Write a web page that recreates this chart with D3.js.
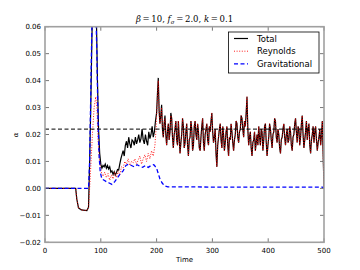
<!DOCTYPE html>
<html><head><meta charset="utf-8">
<script src="https://cdn.jsdelivr.net/npm/d3@7"></script>
<style>
body{margin:0;background:#fff;}
svg{display:block;font-family:"DejaVu Sans",sans-serif;}
</style></head>
<body><svg id="c" width="360" height="270"></svg>
<script>
// ---- data ----
const xTicks = [0,100,200,300,400,500];
const yTicks = [-0.02,-0.01,0.00,0.01,0.02,0.03,0.04,0.05,0.06];
const yTickLabels = ["\u22120.02","\u22120.01","0.00","0.01","0.02","0.03","0.04","0.05","0.06"];
const legendLabels = ["Total","Reynolds","Gravitational"];
const alphaTarget = 0.022;

const totalEarly = [[0,0],[55,0],[57,-0.004],[60,-0.0072],[65,-0.008],[75,-0.0082],[78,-0.007],[80,0.01],[82,0.03],[84,0.055],[86,0.075],[90,0.08],[92,0.065],[94,0.04],[96,0.022],[98,0.013],[100,0.009],[102,0.0075],[104,0.0085],[106,0.008],[108,0.009],[110,0.0075],[112,0.0085],[114,0.0072],[116,0.008],[118,0.006],[120,0.0065],[122,0.0052],[124,0.0062],[126,0.005],[128,0.0058],[130,0.007],[132,0.0068],[134,0.009],[136,0.011],[138,0.0125],[140,0.014],[142,0.012],[144,0.016],[146,0.0175],[148,0.015],[150,0.019],[152,0.0165],[154,0.015],[156,0.018],[158,0.0175],[160,0.016],[162,0.019],[164,0.0165],[166,0.018],[168,0.02],[170,0.017],[172,0.0185],[174,0.022],[176,0.018],[178,0.0165],[180,0.02],[182,0.0175],[184,0.016],[186,0.021],[188,0.0185],[190,0.02],[192,0.023],[194,0.019],[196,0.021],[198,0.025]];
const reynoldsEarly = [[0,0],[55,0],[57,-0.004],[60,-0.0072],[65,-0.008],[75,-0.0082],[78,-0.007],[80,0.0],[82,0.008],[85,0.02],[88,0.03],[91,0.034],[93,0.03],[95,0.018],[97,0.012],[99,0.008],[101,0.006],[104,0.0045],[107,0.006],[110,0.004],[113,0.0055],[116,0.003],[119,0.005],[122,0.0035],[125,0.006],[128,0.004],[131,0.0065],[134,0.005],[137,0.008],[140,0.0075],[143,0.01],[146,0.009],[149,0.011],[152,0.0085],[155,0.01],[158,0.0095],[161,0.011],[164,0.009],[167,0.0105],[170,0.012],[173,0.009],[176,0.011],[179,0.0125],[182,0.01],[185,0.013],[188,0.011],[191,0.014],[194,0.012],[197,0.016],[199,0.022]];
// saturated (turbulent) phase: t = 200..497 every 1.5, then t = 500
const noiseTimes = d3.range(200, 497.1, 1.5).concat([500]);
const totalLate = [0.028,0.035,0.041,0.029,0.024,0.027,0.031,0.022,0.019,0.024,0.027,0.020,0.016,0.021,0.024,0.018,0.021,0.028,0.026,0.019,0.015,0.020,0.022,0.025,0.018,0.016,0.025,0.019,0.013,0.017,0.020,0.026,0.023,0.015,0.017,0.021,0.024,0.016,0.012,0.018,0.019,0.025,0.022,0.014,0.016,0.023,0.025,0.020,0.018,0.024,0.021,0.015,0.014,0.019,0.023,0.026,0.017,0.014,0.020,0.022,0.024,0.018,0.016,0.023,0.021,0.025,0.028,0.021,0.017,0.019,0.022,0.013,0.008,0.016,0.019,0.022,0.024,0.018,0.015,0.023,0.020,0.014,0.017,0.021,0.023,0.016,0.012,0.019,0.018,0.024,0.021,0.017,0.014,0.018,0.020,0.025,0.024,0.019,0.017,0.021,0.022,0.027,0.026,0.022,0.019,0.025,0.023,0.028,0.034,0.022,0.016,0.019,0.021,0.015,0.012,0.017,0.018,0.021,0.014,0.017,0.020,0.016,0.023,0.019,0.016,0.022,0.021,0.014,0.018,0.023,0.024,0.017,0.012,0.016,0.019,0.024,0.022,0.018,0.015,0.020,0.021,0.026,0.025,0.019,0.017,0.022,0.020,0.015,0.013,0.018,0.019,0.022,0.024,0.019,0.016,0.020,0.022,0.017,0.018,0.023,0.021,0.016,0.014,0.019,0.020,0.024,0.026,0.021,0.017,0.023,0.022,0.016,0.019,0.024,0.027,0.020,0.015,0.018,0.021,0.025,0.018,0.022,0.024,0.016,0.013,0.018,0.020,0.023,0.017,0.021,0.023,0.018,0.014,0.017,0.019,0.022,0.016,0.020,0.025,0.0];
const reynoldsLate = [0.027,0.034,0.040,0.028,0.024,0.026,0.030,0.022,0.019,0.024,0.026,0.020,0.016,0.021,0.024,0.018,0.021,0.027,0.026,0.019,0.015,0.020,0.022,0.025,0.018,0.016,0.025,0.019,0.013,0.017,0.020,0.026,0.023,0.015,0.017,0.021,0.024,0.016,0.012,0.018,0.019,0.025,0.022,0.014,0.016,0.023,0.025,0.020,0.018,0.024,0.021,0.015,0.014,0.019,0.023,0.026,0.017,0.014,0.020,0.022,0.024,0.018,0.016,0.023,0.021,0.025,0.028,0.021,0.017,0.019,0.022,0.013,0.008,0.016,0.019,0.022,0.024,0.018,0.015,0.023,0.020,0.014,0.017,0.021,0.023,0.016,0.012,0.019,0.018,0.024,0.021,0.017,0.014,0.018,0.020,0.025,0.024,0.019,0.017,0.021,0.022,0.027,0.026,0.022,0.019,0.025,0.023,0.028,0.034,0.022,0.016,0.019,0.021,0.015,0.012,0.017,0.018,0.021,0.014,0.017,0.020,0.016,0.023,0.019,0.016,0.022,0.021,0.014,0.018,0.023,0.024,0.017,0.012,0.016,0.019,0.024,0.022,0.018,0.015,0.020,0.021,0.026,0.025,0.019,0.017,0.022,0.020,0.015,0.013,0.018,0.019,0.022,0.024,0.019,0.016,0.020,0.022,0.017,0.018,0.023,0.021,0.016,0.014,0.019,0.020,0.024,0.026,0.021,0.017,0.023,0.022,0.016,0.019,0.024,0.027,0.020,0.015,0.018,0.021,0.025,0.018,0.022,0.024,0.016,0.013,0.018,0.020,0.023,0.017,0.021,0.023,0.018,0.014,0.017,0.019,0.022,0.016,0.020,0.025,0.0];
const gravitational = [[0,0],[78,0],[80,0.01],[82,0.035],[84,0.06],[86,0.075],[90,0.075],[93,0.05],[95,0.025],[97,0.012],[99,0.006],[102,0.0035],[106,0.003],[110,0.0025],[115,0.002],[120,0.0015],[125,0.0025],[130,0.004],[135,0.0055],[140,0.0065],[145,0.0085],[150,0.009],[155,0.0085],[160,0.008],[165,0.0088],[170,0.0082],[175,0.0078],[180,0.0085],[185,0.0078],[190,0.0085],[195,0.0088],[200,0.0075],[203,0.0055],[206,0.0035],[210,0.002],[214,0.001],[220,0.0006],[300,0.0005],[400,0.0005],[497,0.0005],[500,0.0]];

// ---- chart ----
const svg = d3.select("#c");
const L = 45, R = 324, T = 26.7, B = 242.3;
const x = d3.scaleLinear().domain([0,500]).range([L,R]);
const y = d3.scaleLinear().domain([-0.02,0.06]).range([B,T]);

svg.append("defs").append("clipPath").attr("id","clip")
  .append("rect").attr("x",L).attr("y",T).attr("width",R-L).attr("height",B-T);

const total = totalEarly.concat(noiseTimes.map((t,i)=>[t,totalLate[i]]));
const reynolds = reynoldsEarly.concat(noiseTimes.map((t,i)=>[t,reynoldsLate[i]]));
const line = d3.line().x(d=>x(d[0])).y(d=>y(d[1]));
const g = svg.append("g").attr("clip-path","url(#clip)");

g.append("path").datum(total).attr("d",line).attr("fill","none")
  .attr("stroke","#000").attr("stroke-width",1.2);
g.append("path").datum(reynolds).attr("d",line).attr("fill","none")
  .attr("stroke","#ff0000").attr("stroke-width",0.9).attr("stroke-dasharray","1,1.6");
g.append("path").datum(gravitational).attr("d",line).attr("fill","none")
  .attr("stroke","#0000ff").attr("stroke-width",1.3).attr("stroke-dasharray","4,2.5");
g.append("line").attr("x1",x(0)).attr("x2",x(500)).attr("y1",y(alphaTarget)).attr("y2",y(alphaTarget))
  .attr("stroke","#000").attr("stroke-width",1).attr("stroke-dasharray","4,2.5");

// ticks (inward, all sides)
const tickCol = "#555";
xTicks.forEach(t=>{
  svg.append("line").attr("x1",x(t)).attr("x2",x(t)).attr("y1",B).attr("y2",B-4).attr("stroke",tickCol).attr("stroke-width",0.8);
  svg.append("line").attr("x1",x(t)).attr("x2",x(t)).attr("y1",T).attr("y2",T+4).attr("stroke",tickCol).attr("stroke-width",0.8);
  svg.append("text").attr("x",x(t)).attr("y",B+11).attr("text-anchor","middle")
    .attr("font-size",7).attr("fill","#000").text(t);
});
yTicks.forEach((v,i)=>{
  svg.append("line").attr("x1",L).attr("x2",L+4).attr("y1",y(v)).attr("y2",y(v)).attr("stroke",tickCol).attr("stroke-width",0.8);
  svg.append("line").attr("x1",R).attr("x2",R-4).attr("y1",y(v)).attr("y2",y(v)).attr("stroke",tickCol).attr("stroke-width",0.8);
  svg.append("text").attr("x",L-4).attr("y",y(v)+2.5).attr("text-anchor","end")
    .attr("font-size",7).attr("fill","#000").text(yTickLabels[i]);
});
// frame
svg.append("rect").attr("x",L).attr("y",T).attr("width",R-L).attr("height",B-T)
  .attr("fill","none").attr("stroke","#a0a0a0").attr("stroke-width",1.6);

// labels
svg.append("text").attr("x",(L+R)/2).attr("y",262).attr("text-anchor","middle")
  .attr("font-size",7).text("Time");
svg.append("text").attr("transform","translate(18,135) rotate(-90)").attr("text-anchor","middle")
  .attr("font-size",7).attr("font-family","DejaVu Serif").attr("font-style","italic").text("\u03b1");
const title = svg.append("text").attr("x",(L+R)/2).attr("y",22).attr("text-anchor","middle")
  .attr("font-size",8.5).attr("font-family","DejaVu Serif");
title.append("tspan").attr("font-style","italic").text("\u03b2");
title.append("tspan").text("\u2009=\u200910, ");
title.append("tspan").attr("font-style","italic").text("f");
title.append("tspan").attr("font-style","italic").attr("font-size",5.5).attr("dy",1.5).text("\u03c3");
title.append("tspan").attr("dy",-1.5).text("\u2009=\u20092.0, ");
title.append("tspan").attr("font-style","italic").text("k");
title.append("tspan").text("\u2009=\u20090.1");

// legend
const lg = svg.append("g");
lg.append("rect").attr("x",228.5).attr("y",32).attr("width",90.5).attr("height",41)
  .attr("fill","#fff").attr("stroke","#000").attr("stroke-width",0.8);
const lstyles = [{c:"#000",d:null,w:1.2},{c:"#ff0000",d:"1,1.6",w:0.9},{c:"#0000ff",d:"4,2.5",w:1.3}];
legendLabels.forEach((lab,i)=>{
  const yy = 38.5 + i*12.7;
  lg.append("line").attr("x1",234).attr("x2",248).attr("y1",yy).attr("y2",yy)
    .attr("stroke",lstyles[i].c).attr("stroke-width",lstyles[i].w).attr("stroke-dasharray",lstyles[i].d);
  lg.append("text").attr("x",257).attr("y",yy+3).attr("font-size",8.5).text(lab);
});
</script></body></html>
